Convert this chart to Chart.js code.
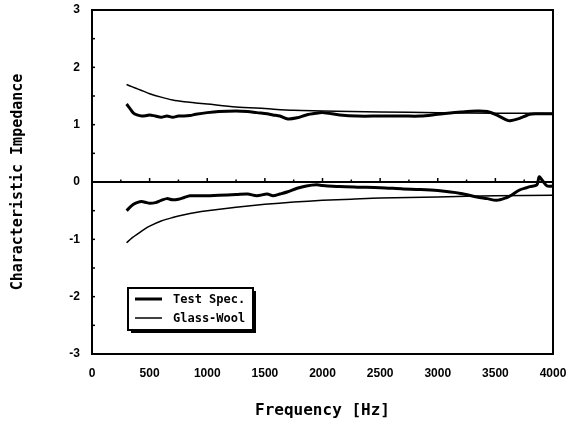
<!DOCTYPE html>
<html>
<head>
<meta charset="utf-8">
<script src="https://cdn.jsdelivr.net/npm/chart.js@4.4.1/dist/chart.umd.min.js"></script>
<style>
  html, body { margin: 0; padding: 0; background: #fff; }
</style>
</head>
<body>
<canvas id="impChart" width="575" height="427"></canvas>
<script>
// Test specimen: frequency [Hz], real and imaginary part
const testFreq = [300, 330, 360, 390, 430, 475, 500, 550, 600, 650, 700, 750, 800, 850, 900, 1000,
  1100, 1250, 1350, 1430, 1520, 1570, 1630, 1700, 1780, 1860, 1950, 2000, 2150, 2300, 2500, 2700,
  2850, 3000, 3200, 3340, 3430, 3510, 3600, 3630, 3710, 3770, 3800, 3860, 3880, 3910, 3950, 4000];
const testReal = [1.36, 1.28, 1.20, 1.17, 1.15, 1.16, 1.17, 1.15, 1.13, 1.15, 1.13, 1.15, 1.15, 1.16, 1.18, 1.21,
  1.23, 1.24, 1.23, 1.21, 1.19, 1.17, 1.15, 1.10, 1.12, 1.17, 1.20, 1.21, 1.17, 1.15, 1.15, 1.15,
  1.15, 1.18, 1.22, 1.24, 1.23, 1.17, 1.08, 1.07, 1.11, 1.16, 1.18, 1.19, 1.19, 1.19, 1.19, 1.19];
const testImag = [-0.50, -0.44, -0.39, -0.36, -0.34, -0.36, -0.37, -0.36, -0.32, -0.29, -0.31, -0.30, -0.27, -0.24, -0.24, -0.24,
  -0.23, -0.22, -0.21, -0.24, -0.21, -0.24, -0.21, -0.17, -0.11, -0.07, -0.05, -0.06, -0.08, -0.09, -0.10, -0.12,
  -0.13, -0.15, -0.20, -0.26, -0.29, -0.32, -0.27, -0.24, -0.14, -0.10, -0.08, -0.05, 0.09, 0.02, -0.07, -0.07];

// Glass wool
const woolFreq = [300, 350, 400, 450, 500, 600, 700, 800, 900, 1000, 1250, 1500, 1750, 2000, 2250, 2500, 3000, 3500, 4000];
const woolReal = [1.70, 1.66, 1.62, 1.58, 1.54, 1.48, 1.43, 1.40, 1.38, 1.36, 1.31, 1.28, 1.25, 1.24, 1.23, 1.22, 1.21, 1.20, 1.195];
const woolImag = [-1.06, -0.97, -0.90, -0.83, -0.77, -0.68, -0.62, -0.57, -0.53, -0.50, -0.44, -0.39, -0.35, -0.32, -0.30, -0.28, -0.26, -0.24, -0.23];

const seriesNames = ["Test Spec.", "Glass-Wool"];
const yTicks = [-3, -2, -1, 0, 1, 2, 3];

const pts = (xs, ys) => xs.map((f, i) => ({ x: f, y: ys[i] }));
const mono = "'DejaVu Sans Mono', monospace";
const tickFont = { family: "'Liberation Sans', Arial, sans-serif", size: 12, weight: "bold" };

function line(label, xs, ys, width, showLegend) {
  return {
    label: label,
    data: pts(xs, ys),
    borderColor: "#000",
    borderWidth: width,
    pointRadius: 0,
    tension: 0.3,
    fill: false,
    inLegend: showLegend,
  };
}

// frame, zero line with small ticks, legend box
const frame = {
  id: "frame",
  afterDraw(chart) {
    const { ctx, chartArea: a, scales: { x, y } } = chart;
    ctx.save();
    ctx.strokeStyle = "#000";
    ctx.lineWidth = 2;
    ctx.strokeRect(a.left, a.top, a.right - a.left, a.bottom - a.top);

    const y0 = y.getPixelForValue(0);
    ctx.beginPath();
    ctx.moveTo(a.left, y0);
    ctx.lineTo(a.right, y0);
    ctx.stroke();

    ctx.lineWidth = 1.5;
    for (let f = 250; f < 4000; f += 250) {
      const px = x.getPixelForValue(f);
      const h = f % 500 === 0 ? 4 : 2.5;
      ctx.beginPath();
      ctx.moveTo(px, y0);
      ctx.lineTo(px, y0 - h);
      ctx.stroke();
    }
    for (let v = -2.5; v < 3; v += 0.5) {
      const py = y.getPixelForValue(v);
      ctx.beginPath();
      ctx.moveTo(a.left, py);
      ctx.lineTo(a.left + 3, py);
      ctx.stroke();
    }

    // legend
    const bx = a.left + 36, by = a.bottom - 66, bw = 125, bh = 42;
    ctx.fillStyle = "#000";
    ctx.fillRect(bx + 3, by + 3, bw, bh);
    ctx.fillStyle = "#fff";
    ctx.fillRect(bx, by, bw, bh);
    ctx.lineWidth = 2;
    ctx.strokeRect(bx, by, bw, bh);

    const items = chart.data.datasets.filter((d) => d.inLegend);
    ctx.font = "bold 12px " + mono;
    ctx.textBaseline = "middle";
    ctx.fillStyle = "#000";
    items.forEach((d, i) => {
      const ly = by + 11 + i * 19;
      ctx.lineWidth = d.borderWidth;
      ctx.beginPath();
      ctx.moveTo(bx + 7, ly);
      ctx.lineTo(bx + 34, ly);
      ctx.stroke();
      ctx.fillText(d.label, bx + 45, ly + 1);
    });
    ctx.restore();
  },
};

const ctx = document.getElementById("impChart").getContext("2d");
new Chart(ctx, {
  type: "line",
  data: {
    datasets: [
      line(seriesNames[0], testFreq, testReal, 3, true),
      line(seriesNames[1], woolFreq, woolReal, 1.5, true),
      line(seriesNames[0], testFreq, testImag, 3, false),
      line(seriesNames[1], woolFreq, woolImag, 1.5, false),
    ],
  },
  options: {
    responsive: false,
    animation: false,
    layout: { padding: { top: 10, right: 22, left: 0, bottom: 0 } },
    plugins: {
      legend: { display: false },
      tooltip: { enabled: false },
    },
    scales: {
      x: {
        type: "linear",
        min: 0,
        max: 4000,
        ticks: {
          stepSize: 500,
          maxRotation: 0,
          padding: 12,
          color: "#000",
          font: tickFont,
          callback: (v) => String(v),
        },
        grid: { display: false, drawTicks: false },
        border: { display: false },
        title: {
          display: true,
          text: "Frequency [Hz]",
          color: "#000",
          font: { family: mono, size: 16, weight: "bold" },
          padding: { top: 0, bottom: 7 },
        },
        afterFit(s) {
          s.height = 73;
          s.paddingLeft = 0;
          s.paddingRight = 0;
        },
      },
      y: {
        min: -3,
        max: 3,
        afterBuildTicks(s) { s.ticks = yTicks.map((v) => ({ value: v })); },
        ticks: {
          padding: 12,
          color: "#000",
          font: tickFont,
          callback: (v) => String(v),
        },
        grid: { display: false, drawTicks: false },
        border: { display: false },
        title: {
          display: true,
          text: "Characteristic Impedance",
          color: "#000",
          font: { family: mono, size: 15, weight: "bold" },
          padding: { top: 9, bottom: 0 },
        },
        afterFit(s) {
          s.width = 92;
          s.paddingTop = 0;
          s.paddingBottom = 0;
        },
      },
    },
  },
  plugins: [frame],
});
</script>
</body>
</html>
